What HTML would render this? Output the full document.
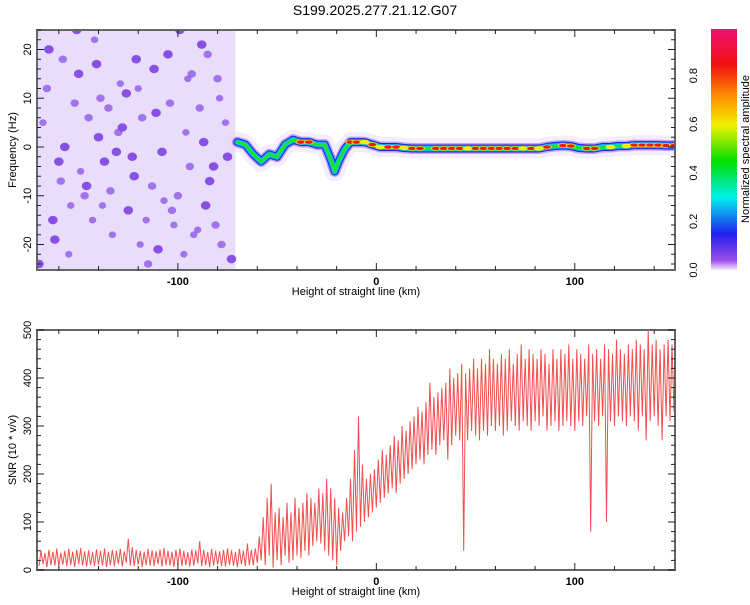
<!DOCTYPE html>
<html><head><meta charset="utf-8"><style>
body{margin:0;background:#fff}
svg text{font-family:"Liberation Sans",sans-serif;fill:#000}
</style></head><body>
<svg id="c" width="750" height="600" xmlns="http://www.w3.org/2000/svg">
<defs>
<linearGradient id="cbg" x1="0" y1="1" x2="0" y2="0">
<stop offset="0" stop-color="#f4eefc"/><stop offset="0.04" stop-color="#9a4ee8"/><stop offset="0.15" stop-color="#2020f0"/>
<stop offset="0.3" stop-color="#00f0f0"/><stop offset="0.45" stop-color="#00e000"/><stop offset="0.6" stop-color="#f0f000"/>
<stop offset="0.72" stop-color="#ff9000"/><stop offset="0.85" stop-color="#f01010"/><stop offset="1" stop-color="#f01070"/>
</linearGradient>
<clipPath id="clipTop"><rect x="37" y="30" width="638" height="240"/></clipPath>
<clipPath id="clipBot"><rect x="37" y="330" width="638" height="240"/></clipPath>
</defs>
<text x="375" y="15" font-size="14" text-anchor="middle">S199.2025.277.21.12.G07</text>
<g id="topPlot" clip-path="url(#clipTop)"></g>
<g id="botPlot" clip-path="url(#clipBot)"></g>
<g id="axes"></g>
<rect x="711" y="29" width="26" height="241" fill="url(#cbg)"/>
<text transform="translate(749,149) rotate(-90)" font-size="11" text-anchor="middle">Normalized spectral amplitude</text>
<text x="356" y="295" font-size="11" text-anchor="middle">Height of straight line (km)</text>
<text x="356" y="595" font-size="11" text-anchor="middle">Height of straight line (km)</text>
<text transform="translate(16,150) rotate(-90)" font-size="11" text-anchor="middle">Frequency (Hz)</text>
<text transform="translate(16,450) rotate(-90)" font-size="11" text-anchor="middle">SNR (10 * v/v)</text>
</svg>
<script>
const xTicks=[-100,0,100];
const fTicks=[-20,-10,0,10,20];
const snrTicks=[0,100,200,300,400,500];
const cbTicks=[0.0,0.2,0.4,0.6,0.8];
const snrStart=-170, snrStep=2;
const snrHi=[40,35,42,38,45,36,40,44,38,42,46,39,41,37,43,40,45,38,42,40,44,39,65,48,42,40,38,44,41,39,43,46,40,38,42,45,40,37,43,41,60,42,38,44,40,39,42,45,41,38,44,40,55,42,
45,70,110,150,180,120,130,110,140,120,150,130,140,160,150,140,170,160,190,170,150,130,120,150,190,250,320,220,190,200,210,230,250,240,260,280,270,300,290,310,320,340,330,350,390,360,370,380,390,420,400,410,430,410,420,440,420,440,430,460,440,430,450,440,460,430,450,470,440,460,450,440,460,450,430,460,440,460,450,470,440,460,450,440,470,450,460,440,470,460,450,480,460,450,470,460,480,470,460,500,470,480,460,470,480,470,460];
const snrLo=[8,12,6,10,9,7,11,8,10,6,12,9,7,10,8,11,9,6,10,8,12,7,15,9,8,11,6,10,9,8,12,7,10,9,6,11,8,10,7,9,14,8,10,6,9,11,8,7,10,9,6,12,8,10,
10,15,20,10,30,5,20,10,30,15,20,30,25,40,30,50,60,55,40,30,20,10,40,60,70,60,80,90,100,110,120,130,140,150,160,170,160,180,190,200,210,220,230,220,240,250,240,260,270,230,260,280,270,40,270,290,280,270,290,280,300,290,300,280,290,310,300,290,310,300,290,310,300,320,290,300,310,290,300,310,300,290,310,300,320,80,310,300,320,100,310,300,320,310,300,320,310,290,320,270,310,320,300,270,320,310,330];
const ridgeH=[-70,-66,-62,-58,-54,-50,-46,-42,-38,-34,-30,-26,-23,-21,-19,-16,-13,-10,-6,-2,2,6,10,14,18,22,26,30,34,38,42,46,50,54,58,62,66,70,74,78,82,86,90,94,98,102,106,110,114,118,122,126,130,134,138,142,146,150];
const ridgeF=[1,0.5,-1.5,-3,-1.5,-2,0.5,1.5,1,1,0.5,0.5,-2.5,-5,-3,-0.5,1,1,1,0.5,0,0,0,-0.2,-0.3,-0.3,-0.3,-0.3,-0.3,-0.3,-0.3,-0.3,-0.3,-0.3,-0.3,-0.3,-0.3,-0.3,-0.3,-0.3,-0.3,0,0.2,0.3,0.2,-0.2,-0.3,-0.3,0,0,0.2,0.2,0.4,0.4,0.4,0.4,0.3,0.3];
const ridgeA=[0.4,0.35,0.3,0.3,0.5,0.3,0.4,0.5,0.9,0.8,0.5,0.35,0.3,0.3,0.4,0.5,0.9,0.85,0.6,0.9,0.7,0.95,0.9,0.6,0.9,0.95,0.5,0.95,0.95,0.95,0.95,0.7,0.95,0.95,0.95,0.95,0.95,0.95,0.6,0.85,0.7,0.8,0.5,0.9,0.9,0.5,0.8,0.8,0.55,0.75,0.5,0.6,0.9,0.95,0.95,0.95,0.9,0.8];
const noiseH=[-165,-158,-150,-142,-135,-128,-120,-112,-104,-96,-88,-80,-75,-168,-160,-152,-146,-138,-130,-122,-116,-108,-100,-92,-84,-78,-163,-155,-147,-140,-133,-125,-118,-110,-102,-94,-86,-79,-166,-157,-149,-141,-134,-126,-119,-111,-103,-95,-87,-81,-162,-154,-145,-137,-129,-121,-113,-105,-97,-89,-82,-76,-159,-151,-143,-131,-115,-99,-90,-85,-170,-139,-123,-107,-93,-73];
const noiseF=[20,18,15,22,8,4,12,16,9,3,21,14,-2,5,-3,9,-8,-12,3,-6,-15,-1,-10,-18,-7,-20,-15,-22,-10,2,-18,-13,6,-21,-16,-4,-12,10,12,0,-5,17,-9,11,-20,7,-13,14,1,-16,-19,-12,6,-3,13,18,-8,19,-22,8,-4,5,-7,24,-15,-1,-24,24,-17,19,-24,10,-2,-11,15,-23];
const noiseA=[0.1,0.08,0.1,0.06,0.08,0.1,0.06,0.1,0.08,0.06,0.1,0.08,0.1,0.06,0.1,0.08,0.1,0.06,0.08,0.1,0.06,0.1,0.08,0.06,0.1,0.08,0.1,0.06,0.08,0.1,0.06,0.1,0.08,0.1,0.06,0.08,0.1,0.06,0.08,0.1,0.06,0.1,0.08,0.1,0.06,0.1,0.08,0.06,0.1,0.08,0.1,0.06,0.08,0.1,0.06,0.1,0.08,0.1,0.06,0.08,0.1,0.06,0.08,0.1,0.06,0.1,0.08,0.1,0.06,0.08,0.1,0.08,0.1,0.06,0.08,0.1];

const NS='http://www.w3.org/2000/svg';
const X0=37,X1=675,H0=-171,H1=150.5;
function xs(h){return X0+(h-H0)/(H1-H0)*(X1-X0);}
function yf(f){return 147-f*4.875;}
function ys(v){return 570-v*0.48;}
function el(t,a,p){const e=document.createElementNS(NS,t);for(const k in a)e.setAttribute(k,a[k]);p.appendChild(e);return e;}
const topG=document.getElementById('topPlot'),botG=document.getElementById('botPlot'),ax=document.getElementById('axes');

let bg=el('rect',{x:X0,y:30,width:xs(-71)-X0,height:240,fill:'#cdb4f4','fill-opacity':0.45},topG);


for(let i=0;i<noiseH.length;i++){
  const a=noiseA[i];
  const c=el('ellipse',{cx:xs(noiseH[i]),cy:yf(noiseF[i]),rx:2+a*28,ry:2+a*22,fill:a>0.09?'#6a20dc':'#8a50e6','fill-opacity':0.75},topG);
  
  
}
const rp=ridgeH.map((h,i)=>xs(h).toFixed(1)+','+yf(ridgeF[i]).toFixed(1)).join(' ');
const layers=[[20,'#e4d8f8',0.45],[11,'#a070ea',0.6],[8,'#2020e8',1],[6,'#10a0f0',1],[4,'#00e0c0',1],[2.5,'#20e020',1]];
for(const L of layers){
  const p=el('polyline',{points:rp,fill:'none',stroke:L[1],'stroke-width':L[0],'stroke-opacity':L[2],'stroke-linejoin':'round','stroke-linecap':'round'},topG);
  
  
}
for(let i=0;i<ridgeH.length;i++){
  const a=ridgeA[i],cx=xs(ridgeH[i]),cy=yf(ridgeF[i]);
  if(a>=0.6){const e=el('ellipse',{cx:cx,cy:cy,rx:5,ry:2.3,fill:'#f0f000'},topG);
    
    }
  if(a>=0.8){const e=el('ellipse',{cx:cx,cy:cy,rx:4,ry:1.7,fill:'#f01818'},topG);
    
    }
}
let pts=[];
const n=Math.min(snrHi.length,snrLo.length);
for(let i=0;i<n;i++){
  const h=snrStart+i*snrStep;
  pts.push(xs(h).toFixed(1)+','+ys(snrLo[i]).toFixed(1));
  pts.push(xs(h+snrStep/2).toFixed(1)+','+ys(snrHi[i]).toFixed(1));
}
const sl=el('polyline',{points:pts.join(' '),fill:'none',stroke:'#f03030','stroke-width':1,'stroke-opacity':0.85},botG);



function frame(y0,name){
  const r=el('rect',{x:X0,y:y0,width:X1-X0,height:240,fill:'none',stroke:'#666','stroke-width':2},ax);
  
  
  for(let h=-160;h<=140;h+=20){const x=xs(h),L=(h%100===0)?7:4;
    el('line',{x1:x,x2:x,y1:y0,y2:y0+L,stroke:'#222'},ax);el('line',{x1:x,x2:x,y1:y0+240,y2:y0+240-L,stroke:'#222'},ax);}
  for(const t of xTicks){const tx=el('text',{x:xs(t),y:y0+255,'font-size':11,'text-anchor':'middle','font-weight':'bold'},ax);tx.textContent=t;
    
    }
}
frame(30,'top-plot-frame');frame(330,'bottom-plot-frame');
for(let f=-24;f<=24;f+=2){const y=yf(f),L=f%10===0?7:4;el('line',{x1:X0,x2:X0+L,y1:y,y2:y,stroke:'#222'},ax);el('line',{x1:X1,x2:X1-L,y1:y,y2:y,stroke:'#222'},ax);}
for(const t of fTicks){const tx=el('text',{transform:`translate(31,${yf(t)}) rotate(-90)`,'font-size':11,'text-anchor':'middle'},ax);tx.textContent=t;
  
  }
for(let v=0;v<=500;v+=20){const y=ys(v),L=v%100===0?7:4;el('line',{x1:X0,x2:X0+L,y1:y,y2:y,stroke:'#222'},ax);el('line',{x1:X1,x2:X1-L,y1:y,y2:y,stroke:'#222'},ax);}
for(const t of snrTicks){const tx=el('text',{transform:`translate(31,${ys(t)}) rotate(-90)`,'font-size':11,'text-anchor':'middle'},ax);tx.textContent=t;
  
  }
for(const t of cbTicks){const tx=el('text',{transform:`translate(697,${270-t*243}) rotate(-90)`,'font-size':11,'text-anchor':'middle'},ax);tx.textContent=t.toFixed(1);
  
  }
</script>
</body></html>
